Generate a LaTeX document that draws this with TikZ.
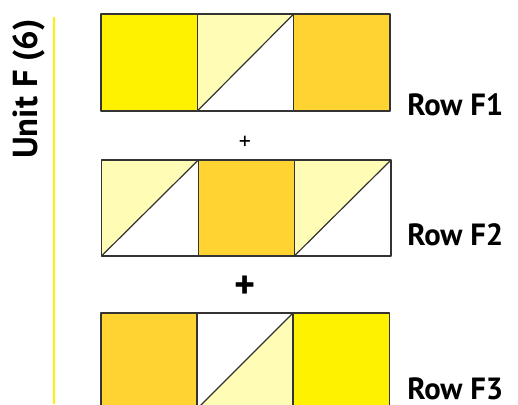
\documentclass[tikz,border=0pt]{standalone}
\usepackage{fontspec}
\setmainfont{PT Sans}
\definecolor{ybright}{HTML}{FFF200}
\definecolor{ygold}{HTML}{FFD332}
\definecolor{ylight}{HTML}{FFFDB5}
\definecolor{edge}{HTML}{333333}
\begin{document}
\begin{tikzpicture}[x=0.75pt,y=-0.75pt,
  patch/.style={draw=edge,line width=0.9pt,line join=round},
  rowlabel/.style={anchor=base west,inner sep=0pt,font=\fontsize{23}{26}\selectfont\bfseries},
  unitlabel/.style={rotate=90,inner sep=0pt,font=\fontsize{26}{30}\selectfont\bfseries}]
\useasboundingbox (0,0) rectangle (518,404);
\clip (0,0) rectangle (518,404);
% divider line
\coordinate (ltop) at (54.3,17);
\coordinate (lbot) at (54.3,404);
\draw[ybright,line width=1.4pt] (ltop) -- (lbot);
\node[unitlabel] (unit) at (28.5,89) {Unit F (6)};
% Row F1
\path[patch,fill=ybright] (101,14) rectangle (197.3,111);
\path[fill=white] (197.3,14) rectangle (293.7,111);
\path[fill=ylight] (197.3,14) -- (293.7,14) -- (197.3,111) -- cycle;
\path[patch] (197.3,14) rectangle (293.7,111);
\path[patch] (197.3,111) -- (293.7,14);
\path[patch,fill=ygold] (293.7,14) rectangle (390,111);
\node[rowlabel] (r1) at (407,115) {Row F1};
\node[font=\fontsize{18}{20}\selectfont,inner sep=0pt] (p1) at (245,143) {+};
% Row F2
\path[fill=white] (101.5,160) rectangle (198.3,256);
\path[fill=ylight] (101.5,160) -- (198.3,160) -- (101.5,256) -- cycle;
\path[patch] (101.5,160) rectangle (198.3,256);
\path[patch] (101.5,256) -- (198.3,160);
\path[patch,fill=ygold] (198.3,160) rectangle (294.3,256);
\path[fill=white] (294.3,160) rectangle (391,256);
\path[fill=ylight] (294.3,160) -- (391,160) -- (294.3,256) -- cycle;
\path[patch] (294.3,160) rectangle (391,256);
\path[patch] (294.3,256) -- (391,160);
\node[rowlabel] (r2) at (407,245) {Row F2};
\node[font=\fontsize{30}{32}\selectfont\bfseries,inner sep=0pt] (p2) at (245,287) {+};
% Row F3
\path[patch,fill=ygold] (101,313) rectangle (197,409);
\path[fill=white] (197,313) rectangle (293,409);
\path[fill=ylight] (293,313) -- (293,409) -- (197,409) -- cycle;
\path[patch] (197,313) rectangle (293,409);
\path[patch] (197,409) -- (293,313);
\path[patch,fill=ybright] (293,313) rectangle (389.5,409);
\node[rowlabel] (r3) at (407,399.5) {Row F3};
\end{tikzpicture}
\end{document}
